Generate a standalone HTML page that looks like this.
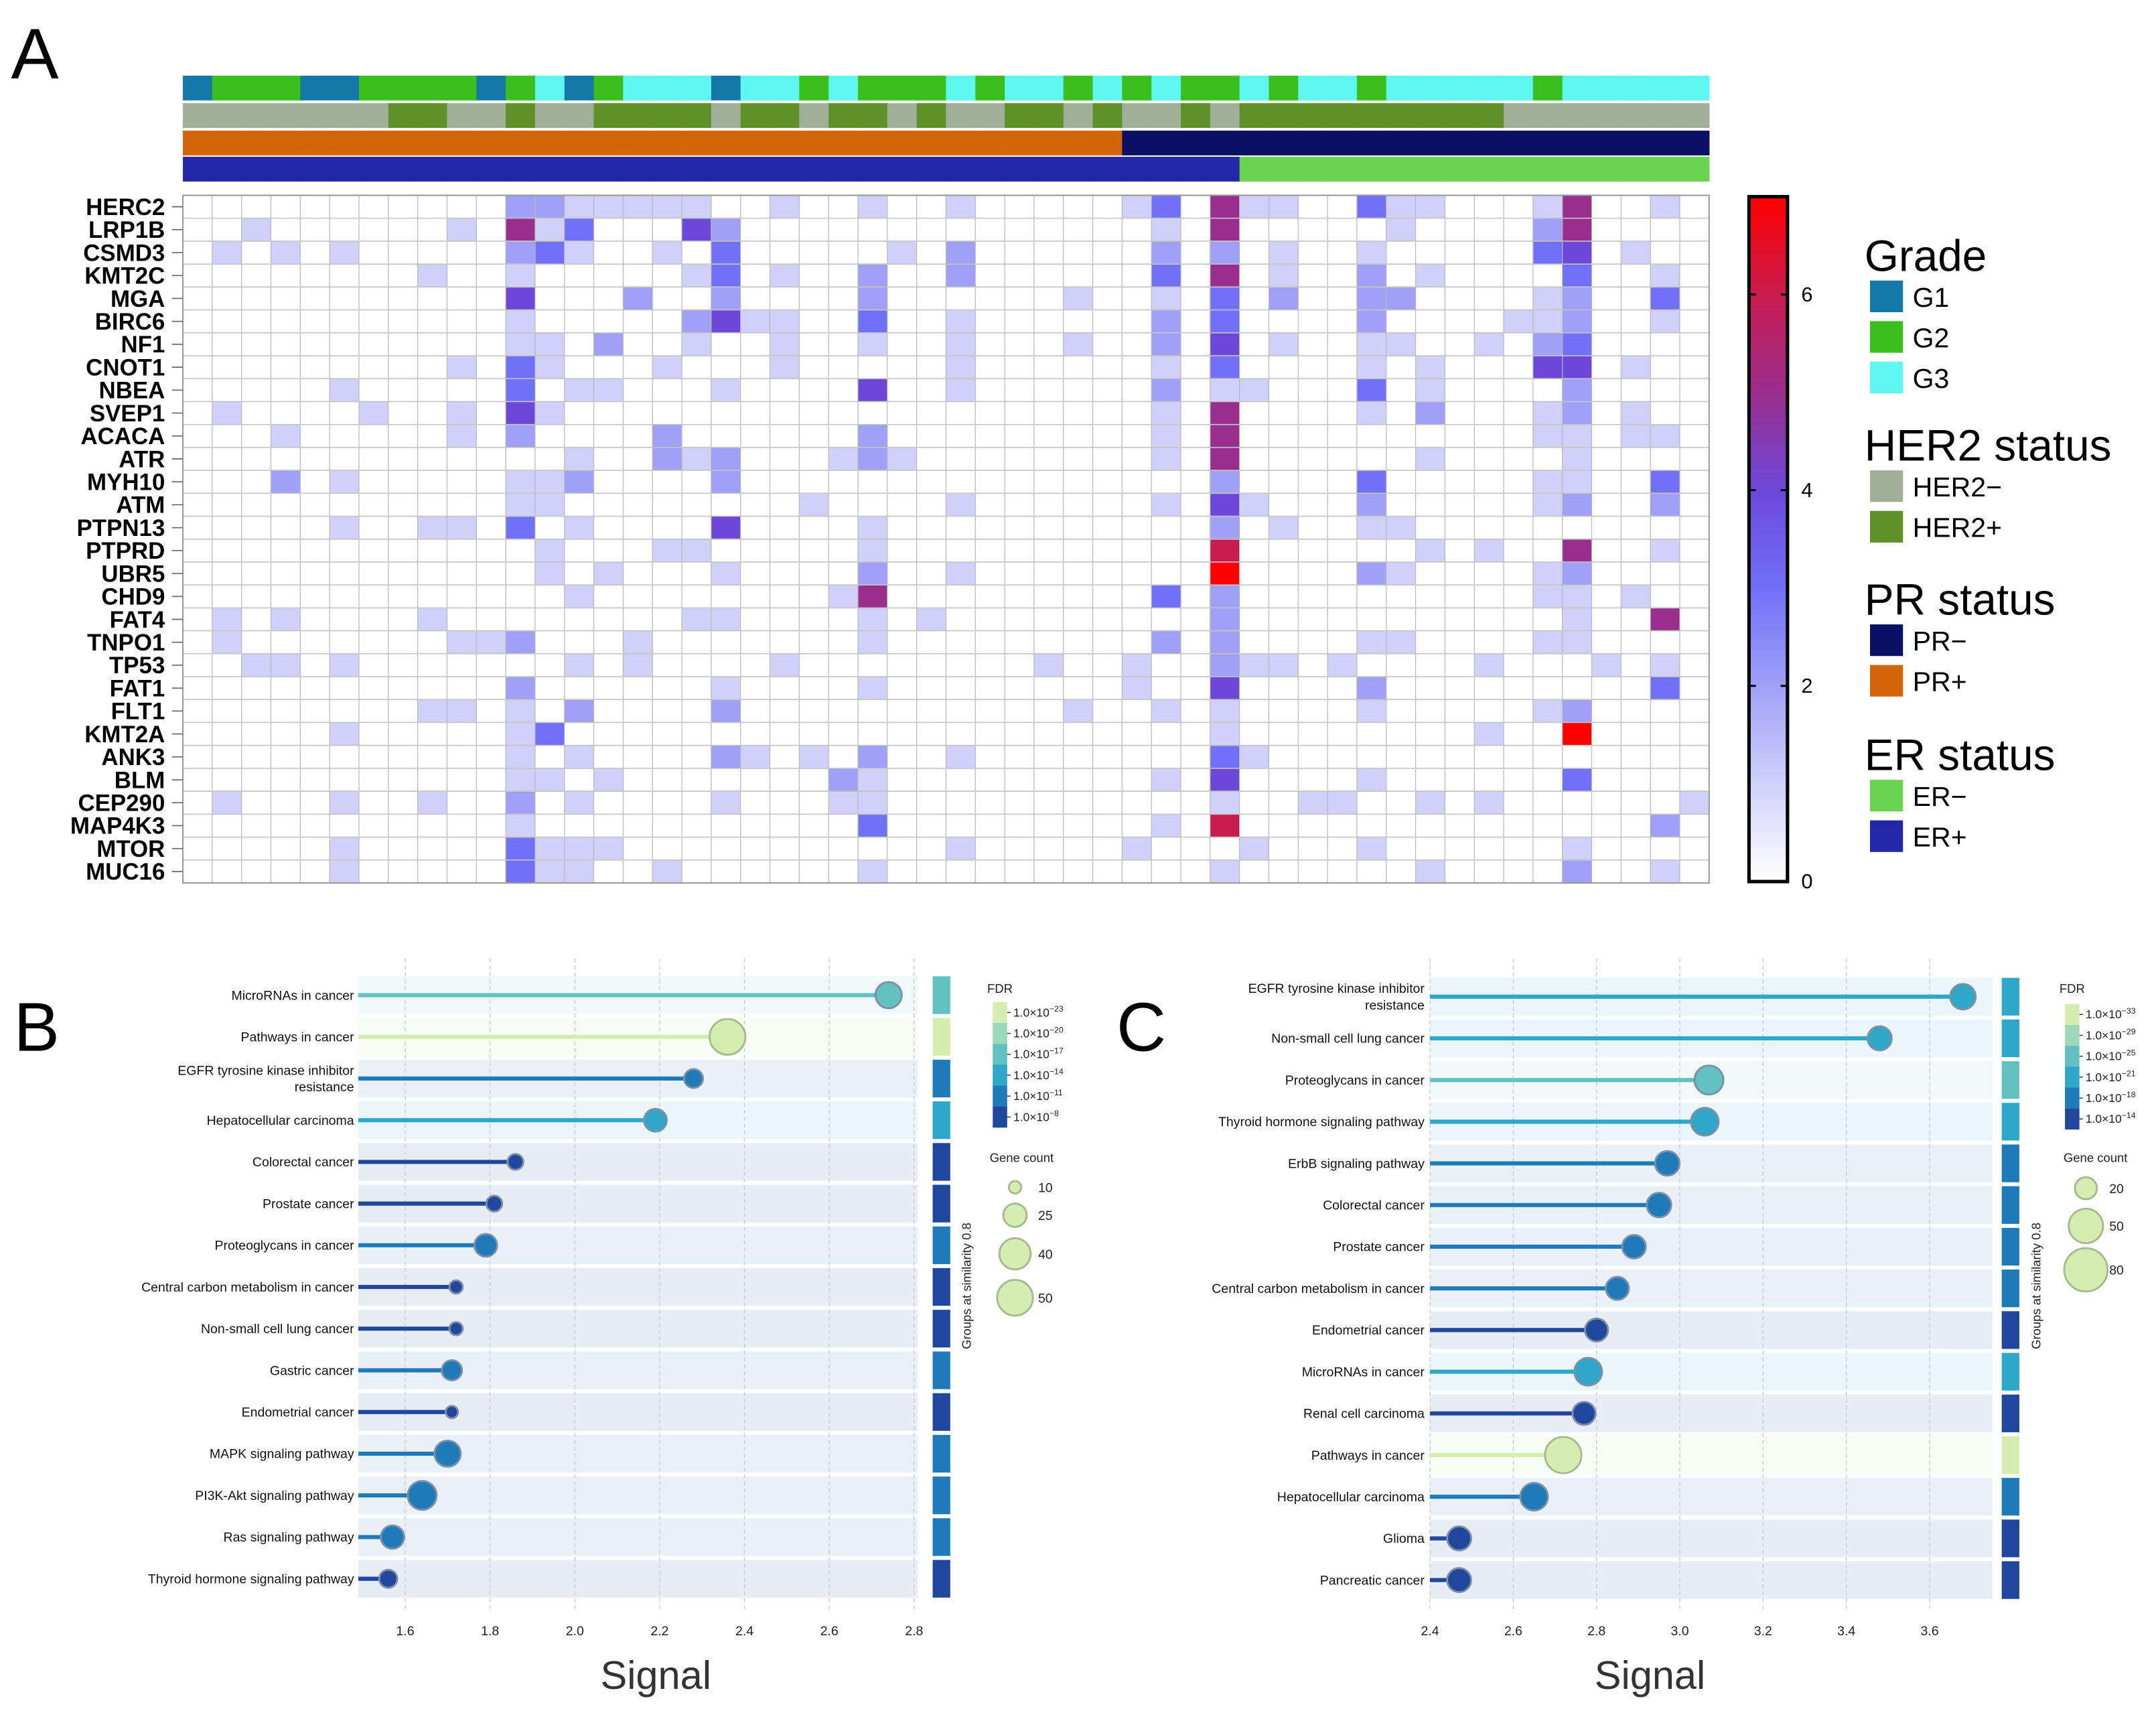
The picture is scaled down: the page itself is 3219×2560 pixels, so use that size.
<!DOCTYPE html>
<html><head><meta charset="utf-8">
<style>
html,body{margin:0;padding:0;background:#fff;}
svg{display:block;}
text{font-family:"Liberation Sans",sans-serif;}
.nar{font-family:"Liberation Sans Narrow","Liberation Sans",sans-serif;}
</style></head>
<body>
<svg id="fig" xmlns="http://www.w3.org/2000/svg" width="3219" height="2560" viewBox="0 0 1568 1247" preserveAspectRatio="none">
<rect x="0" y="0" width="1568" height="1247" fill="#fff"/>
<text x="8" y="57" font-size="52" fill="#000">A</text>
<text x="10" y="764" font-size="50" fill="#000">B</text>
<text x="812" y="764" font-size="50" fill="#000">C</text>
<g id="heat"></g>
<g id="legendA"></g>
<g id="panelB"></g>
<g id="panelC"></g>
</svg>
<script>
// ---------- Panel A data ----------
const genes = ["HERC2","LRP1B","CSMD3","KMT2C","MGA","BIRC6","NF1","CNOT1","NBEA","SVEP1","ACACA","ATR","MYH10","ATM","PTPN13","PTPRD","UBR5","CHD9","FAT4","TNPO1","TP53","FAT1","FLT1","KMT2A","ANK3","BLM","CEP290","MAP4K3","MTOR","MUC16"];
const nSamples = 52;
// sparse per-gene values: [sampleIndex, value]
const heatValues = [
[[11,2],[12,2],[13,1],[14,1],[15,1],[16,1],[17,1],[20,1],[23,1],[26,1],[32,1],[33,3],[35,5],[36,1],[37,1],[40,3],[41,1],[42,1],[46,1],[47,5],[50,1]],
[[2,1],[9,1],[11,5],[12,1],[13,3],[17,4],[18,2],[33,1],[35,5],[41,1],[46,2],[47,5]],
[[1,1],[3,1],[5,1],[11,2],[12,3],[13,1],[16,1],[18,3],[24,1],[26,2],[33,2],[35,2],[37,1],[40,1],[46,3],[47,4],[49,1]],
[[8,1],[11,1],[17,1],[18,3],[20,1],[23,2],[26,2],[33,3],[35,5],[37,1],[40,2],[42,1],[47,3],[50,1]],
[[11,4],[15,2],[18,2],[23,2],[30,1],[33,1],[35,3],[37,2],[40,2],[41,2],[46,1],[47,2],[50,3]],
[[11,1],[17,2],[18,4],[19,1],[20,1],[23,3],[26,1],[33,2],[35,3],[40,2],[45,1],[46,1],[47,2],[50,1]],
[[11,1],[12,1],[14,2],[17,1],[20,1],[23,1],[26,1],[30,1],[33,2],[35,4],[37,1],[40,1],[41,1],[44,1],[46,2],[47,3]],
[[9,1],[11,3],[12,1],[16,1],[20,1],[26,1],[33,1],[35,3],[40,1],[42,1],[46,4],[47,4],[49,1]],
[[5,1],[11,3],[13,1],[14,1],[18,1],[23,4],[26,1],[33,2],[35,1],[36,1],[40,3],[42,1],[47,2]],
[[1,1],[6,1],[9,1],[11,4],[12,1],[33,1],[35,5],[40,1],[42,2],[46,1],[47,2],[49,1]],
[[3,1],[9,1],[11,2],[16,2],[23,2],[33,1],[35,5],[46,1],[47,1],[49,1],[50,1]],
[[13,1],[16,2],[17,1],[18,2],[22,1],[23,2],[24,1],[33,1],[35,5],[42,1],[47,1]],
[[3,2],[5,1],[11,1],[12,1],[13,2],[18,2],[35,2],[40,3],[46,1],[47,1],[50,3]],
[[11,1],[12,1],[21,1],[26,1],[33,1],[35,4],[36,1],[40,2],[46,1],[47,2],[50,2]],
[[5,1],[8,1],[9,1],[11,3],[13,1],[18,4],[23,1],[35,2],[37,1],[40,1],[41,1]],
[[12,1],[16,1],[17,1],[23,1],[35,6],[42,1],[44,1],[47,5],[50,1]],
[[12,1],[14,1],[18,1],[23,2],[26,1],[35,7],[40,2],[41,1],[46,1],[47,2]],
[[13,1],[22,1],[23,5],[33,3],[35,2],[46,1],[47,1],[49,1]],
[[1,1],[3,1],[8,1],[17,1],[18,1],[23,1],[25,1],[35,2],[47,1],[50,5]],
[[1,1],[9,1],[10,1],[11,2],[15,1],[23,1],[33,2],[35,2],[40,1],[41,1],[46,1],[47,1]],
[[2,1],[3,1],[5,1],[13,1],[15,1],[20,1],[29,1],[32,1],[35,2],[36,1],[37,1],[39,1],[44,1],[48,1],[50,1]],
[[11,2],[18,1],[23,1],[32,1],[35,4],[40,2],[50,3]],
[[8,1],[9,1],[11,1],[13,2],[18,2],[30,1],[33,1],[35,1],[40,1],[46,1],[47,2]],
[[5,1],[11,1],[12,3],[35,1],[44,1],[47,7]],
[[11,1],[13,1],[18,2],[19,1],[21,1],[23,2],[26,1],[35,3],[36,1]],
[[11,1],[12,1],[14,1],[22,2],[23,1],[33,1],[35,4],[40,1],[47,3]],
[[1,1],[5,1],[8,1],[11,2],[13,1],[18,1],[22,1],[23,1],[35,1],[38,1],[39,1],[42,1],[44,1],[51,1]],
[[11,1],[23,3],[33,1],[35,6],[50,2]],
[[5,1],[11,3],[12,1],[13,1],[14,1],[26,1],[32,1],[36,1],[40,1],[47,1]],
[[5,1],[11,3],[12,1],[13,1],[16,1],[23,1],[35,1],[42,1],[47,2],[50,1]]
];
const gradeAnn = [1,2,2,2,1,1,2,2,2,2,1,2,3,1,2,3,3,3,1,3,3,2,3,2,2,2,3,2,3,3,2,3,2,3,2,2,3,2,3,3,2,3,3,3,3,3,2,3,3,3,3,3];
const her2Ann = [0,0,0,0,0,0,0,1,1,0,0,1,0,0,1,1,1,1,0,1,1,0,1,1,0,1,0,0,1,1,0,1,0,0,1,0,1,1,1,1,1,1,1,1,1,0,0,0,0,0,0,0];
const prAnn = [1,1,1,1,1,1,1,1,1,1,1,1,1,1,1,1,1,1,1,1,1,1,1,1,1,1,1,1,1,1,1,1,0,0,0,0,0,0,0,0,0,0,0,0,0,0,0,0,0,0,0,0];
const erAnn = [1,1,1,1,1,1,1,1,1,1,1,1,1,1,1,1,1,1,1,1,1,1,1,1,1,1,1,1,1,1,1,1,1,1,1,1,0,0,0,0,0,0,0,0,0,0,0,0,0,0,0,0];
const colorbarTicks = [0,2,4,6];

// ---------- Panel B data ----------
const bTerms = ["MicroRNAs in cancer","Pathways in cancer","EGFR tyrosine kinase inhibitor|resistance","Hepatocellular carcinoma","Colorectal cancer","Prostate cancer","Proteoglycans in cancer","Central carbon metabolism in cancer","Non-small cell lung cancer","Gastric cancer","Endometrial cancer","MAPK signaling pathway","PI3K-Akt signaling pathway","Ras signaling pathway","Thyroid hormone signaling pathway"];
const bSignal = [2.74,2.36,2.28,2.19,1.86,1.81,1.79,1.72,1.72,1.71,1.71,1.70,1.64,1.57,1.56];
const bCount = [30,50,18,24,14,14,24,11,11,20,10,30,35,25,17];
const bFdr = [2,0,4,3,5,5,4,5,5,4,5,4,4,4,5];
const bTicks = [1.6,1.8,2.0,2.2,2.4,2.6,2.8];
const bFdrLabels = ["\u221223","\u221220","\u221217","\u221214","\u221211","\u22128"];
const bSizeLegend = [10,25,40,50];

// ---------- Panel C data ----------
const cTerms = ["EGFR tyrosine kinase inhibitor|resistance","Non-small cell lung cancer","Proteoglycans in cancer","Thyroid hormone signaling pathway","ErbB signaling pathway","Colorectal cancer","Prostate cancer","Central carbon metabolism in cancer","Endometrial cancer","MicroRNAs in cancer","Renal cell carcinoma","Pathways in cancer","Hepatocellular carcinoma","Glioma","Pancreatic cancer"];
const cSignal = [3.68,3.48,3.07,3.06,2.97,2.95,2.89,2.85,2.80,2.78,2.77,2.72,2.65,2.47,2.47];
const cCount = [27,24,35,32,25,25,23,22,22,32,22,56,32,24,24];
const cFdr = [3,3,2,3,4,4,4,4,5,3,5,0,4,5,5];
const cTicks = [2.4,2.6,2.8,3.0,3.2,3.4,3.6];
const cFdrLabels = ["\u221233","\u221229","\u221225","\u221221","\u221218","\u221214"];
const cSizeLegend = [20,50,80];

const NS = "http://www.w3.org/2000/svg";
function mk(tag, parent){ const e=document.createElementNS(NS,tag); parent.appendChild(e); return e; }
function at(e,o){ for(const k in o) e.setAttribute(k,o[k]); return e; }

// colour scale for heatmap
const cStops=[[0,[255,255,255]],[1,[208,208,250]],[2,[160,160,248]],[3,[112,112,248]],[4,[109,72,216]],[5,[154,46,140]],[6,[200,28,78]],[7,[255,0,0]]];
function heatColor(v){
  if(v<=0) return "rgb(255,255,255)";
  for(let i=1;i<cStops.length;i++){
    if(v<=cStops[i][0]){ const a=cStops[i-1],b=cStops[i]; const t=(v-a[0])/(b[0]-a[0]);
      const c=a[1].map((x,j)=>Math.round(x+(b[1][j]-x)*t)); return "rgb("+c.join(",")+")"; }
  }
  return "rgb(255,0,0)";
}

// ---------- Draw heatmap ----------
(function(){
  const g=document.getElementById("heat");
  const x0=133,x1=1243,y0=142,y1=642;
  const cw=(x1-x0)/nSamples, rh=(y1-y0)/genes.length;
  const xS=i=>x0+i*cw, yS=r=>y0+r*rh;
  // annotation bars
  const annRows=[[gradeAnn,{1:"#1478a8",2:"#3cbe1c",3:"#5ef8f0"},55,"grade-annotation"],
                 [her2Ann,{0:"#a0b098",1:"#60902a"},75,"her2-annotation"],
                 [prAnn,{0:"#0a1064",1:"#d4640a"},95,"pr-annotation"],
                 [erAnn,{0:"#6ad452",1:"#2228a8"},114,"er-annotation"]];
  annRows.forEach(([arr,cols,yy,nm])=>{
    const ag=mk("g",g);
    
    
    arr.forEach((v,i)=>{
      const r=at(mk("rect",ag),{x:xS(i),y:yy,width:cw+0.3,height:18,fill:cols[v]});
      
      
    });
  });
  const bg=at(mk("rect",g),{x:x0,y:y0,width:x1-x0,height:y1-y0,fill:"#fff"});
  
  
  const cg=mk("g",g);
  
  
  heatValues.forEach((row,r)=>{
    row.forEach(([c,v])=>{
      const rc=at(mk("rect",cg),{x:xS(c),y:yS(r),width:cw,height:rh,fill:heatColor(v)});
      
      
    });
  });
  // grid
  const gg=mk("g",g);
  
  
  for(let i=0;i<=nSamples;i++){ at(mk("line",gg),{x1:xS(i),x2:xS(i),y1:y0,y2:y1,stroke:"#b8b8b8","stroke-width":0.6}); }
  for(let r=0;r<=genes.length;r++){ at(mk("line",gg),{x1:x0,x2:x1,y1:yS(r),y2:yS(r),stroke:"#c4c4c4","stroke-width":0.8}); }
  at(mk("rect",gg),{x:x0,y:y0,width:x1-x0,height:y1-y0,fill:"none",stroke:"#999","stroke-width":1});
  // gene labels
  genes.forEach((gn,r)=>{
    const t=at(mk("text",g),{x:120,y:yS(r)+rh/2+6,"text-anchor":"end","font-size":17,"font-weight":"bold",fill:"#000"});
    t.textContent=gn;
    
    
    at(mk("line",g),{x1:125,x2:133,y1:yS(r)+rh/2,y2:yS(r)+rh/2,stroke:"#666","stroke-width":0.8});
  });
  // colour bar
  const cbx=1272,cbw=28,cby0=143,cby1=641;
  const vS=v=>cby1-(v/7)*(cby1-cby0);
  const defs=mk("defs",g);
  const lg=at(mk("linearGradient",defs),{id:"cbgrad",x1:0,y1:1,x2:0,y2:0});
  cStops.forEach(([v,c])=>{ at(mk("stop",lg),{offset:(v/7),"stop-color":"rgb("+c.join(",")+")"}); });
  const cb=at(mk("rect",g),{x:cbx,y:cby0,width:cbw,height:cby1-cby0,fill:"url(#cbgrad)",stroke:"#000","stroke-width":2.5});
  
  
  colorbarTicks.forEach(v=>{
    const y=vS(v);
    at(mk("line",g),{x1:cbx,x2:cbx+5,y1:y,y2:y,stroke:"#000","stroke-width":1.5});
    at(mk("line",g),{x1:cbx+cbw-5,x2:cbx+cbw,y1:y,y2:y,stroke:"#000","stroke-width":1.5});
    const t=at(mk("text",g),{x:1310,y:y+5,"font-size":15,fill:"#000"});
    t.textContent=String(v);
    
    
  });
})();

// ---------- Annotation legend ----------
(function(){
  const g=document.getElementById("legendA");
  const groups=[["Grade",197,[["G1","#1478a8"],["G2","#3cbe1c"],["G3","#5ef8f0"]],"grade-legend"],
                ["HER2 status",335,[["HER2\u2212","#a0b098"],["HER2+","#60902a"]],"her2-legend"],
                ["PR status",447,[["PR\u2212","#0a1064"],["PR+","#d4640a"]],"pr-legend"],
                ["ER status",560,[["ER\u2212","#6ad452"],["ER+","#2228a8"]],"er-legend"]];
  groups.forEach(([title,yb,items,nm])=>{
    const t=at(mk("text",g),{x:1356,y:yb,"font-size":32,fill:"#000"});
    t.textContent=title;
    
    
    items.forEach(([lab,col],i)=>{
      const yy=yb+7+i*29.5;
      const r=at(mk("rect",g),{x:1360,y:yy,width:24,height:23,fill:col});
      
      
      const tt=at(mk("text",g),{x:1391,y:yy+19,"font-size":20,fill:"#000"});
      tt.textContent=lab;
      
      
    });
  });
})();

// ---------- Lollipop charts ----------
const fdrPalette=["#d5edb0","#9fd8b8","#62c2c1","#2ea7c9","#1f7ab9","#21479d"];
function lolli(cfg){
  const g=document.getElementById(cfg.id);
  const xS=v=>cfg.px0+(v-cfg.v0)*cfg.k;
  const yC=i=>cfg.yc0+i*cfg.step;
  const bandH=27.4;
  // bands
  cfg.terms.forEach((tm,i)=>{
    const col=fdrPalette[cfg.fdr[i]];
    const b=at(mk("rect",g),{x:cfg.left,y:yC(i)-bandH/2,width:cfg.right-cfg.left,height:bandH,fill:col,"fill-opacity":cfg.fdr[i]===0?0.15:0.1});
    
    
    const gb=at(mk("rect",g),{x:cfg.gx,y:yC(i)-bandH/2,width:12.8,height:bandH,fill:col});
    
    
  });
  // grid + ticks
  cfg.ticks.forEach(v=>{
    at(mk("line",g),{x1:xS(v),x2:xS(v),y1:697,y2:1172,stroke:"#c8cdd6","stroke-width":0.7,"stroke-dasharray":"3,2"});
    const t=at(mk("text",g),{x:xS(v),y:1189,"text-anchor":"middle","font-size":9.5,fill:"#222",class:"nar"});
    t.textContent=v.toFixed(1);
    
    
  });
  // stems + circles
  cfg.terms.forEach((tm,i)=>{
    const col=fdrPalette[cfg.fdr[i]];
    const y=yC(i), x=xS(cfg.signal[i]);
    const ln=at(mk("line",g),{x1:cfg.left,x2:x,y1:y,y2:y,stroke:col,"stroke-width":3});
    
    
    const c=at(mk("circle",g),{cx:x,cy:y,r:cfg.rad(cfg.count[i]),fill:col,stroke:cfg.fdr[i]===0?"#a8b890":"#7f8fa6","stroke-width":1.4});
    
    
    const parts=tm.split("|");
    parts.forEach((p,j)=>{
      const t=at(mk("text",g),{x:cfg.labx,y:y+3.3+(parts.length>1?(j===0?-6:6):0),"text-anchor":"end","font-size":9.5,fill:"#111",class:"nar"});
      t.textContent=p;
      
      
    });
  });
  // axis title
  const st=at(mk("text",g),{x:cfg.sigx,y:1228,"text-anchor":"middle","font-size":29,fill:"#333"});
  st.textContent="Signal";
  
  
  // groups title
  const gt=at(mk("text",g),{x:0,y:0,"text-anchor":"middle","font-size":9,fill:"#222",transform:"translate("+cfg.grpx+",935) rotate(-90)"});
  gt.textContent="Groups at similarity 0.8";
  
  
  // FDR legend
  const ft=at(mk("text",g),{x:cfg.fx-4,y:722,"font-size":9,fill:"#222",class:"nar"});
  ft.textContent="FDR";
  
  
  cfg.fdrLabels.forEach((lab,i)=>{
    const by=cfg.fy+i*15.2;
    const r=at(mk("rect",g),{x:cfg.fx,y:by,width:10.5,height:15.3,fill:fdrPalette[i]});
    
    
    at(mk("line",g),{x1:cfg.fx+10.5,x2:cfg.fx+13,y1:by+7.6,y2:by+7.6,stroke:"#333","stroke-width":0.7});
    const t=at(mk("text",g),{x:cfg.fx+15,y:by+10.5,"font-size":8.5,fill:"#222",class:"nar"});
    t.textContent="1.0\u00d710";
    const sp=at(mk("tspan",t),{"font-size":6,dy:-3.5});
    sp.textContent=lab;
    
    
  });
  const gct=at(mk("text",g),{x:cfg.gcx,y:845,"text-anchor":"middle","font-size":9,fill:"#222",class:"nar"});
  gct.textContent="Gene count";
  
  
  cfg.sizeLegend.forEach((n,i)=>{
    const y=cfg.sizeY[i];
    const c=at(mk("circle",g),{cx:cfg.scx,cy:y,r:cfg.rad(n),fill:"#d5edb0",stroke:"#a8b890","stroke-width":1.4});
    
    
    const t=at(mk("text",g),{x:cfg.slx,y:y+3.5,"font-size":9.5,fill:"#222",class:"nar"});
    t.textContent=String(n);
    
    
  });
}
lolli({id:"panelB",terms:bTerms,signal:bSignal,count:bCount,fdr:bFdr,ticks:bTicks,fdrLabels:bFdrLabels,sizeLegend:bSizeLegend,
  px0:294.7,v0:1.6,k:308.4,left:260.6,right:667.4,yc0:723.6,step:30.31,gx:678.3,labx:257.5,sigx:477,grpx:706,
  fx:722,fy:728.6,gcx:743,scx:738.2,slx:755,sizeY:[863.3,883.6,911.7,943.6],
  rad:n=>Math.max(3,-2.37+2.17*Math.sqrt(n))});
lolli({id:"panelC",terms:cTerms,signal:cSignal,count:cCount,fdr:cFdr,ticks:cTicks,fdrLabels:cFdrLabels,sizeLegend:cSizeLegend,
  px0:1040,v0:2.4,k:302.8,left:1040,right:1449,yc0:724.7,step:30.3,gx:1455.8,labx:1036,sigx:1200,grpx:1484,
  fx:1501.8,fy:730,gcx:1524,scx:1517,slx:1534,sizeY:[864,891.4,923.3],
  rad:n=>0.26+1.73*Math.sqrt(n)});
</script>
</body></html>
